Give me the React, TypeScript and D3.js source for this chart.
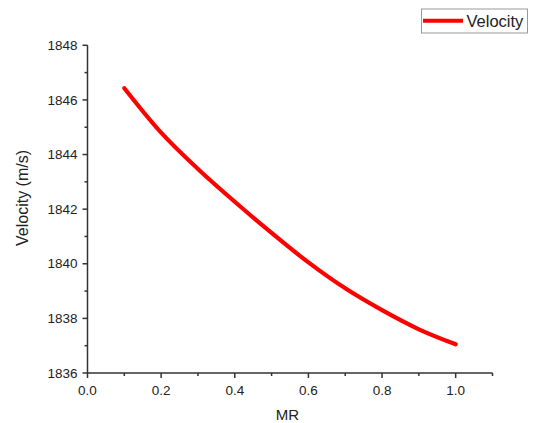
import React from "react";
import * as d3 from "d3";

const mr: number[] = [0.1, 0.2, 0.3, 0.4, 0.5, 0.6, 0.7, 0.8, 0.9, 1.0];
const velocity: number[] = [1846.43, 1844.8, 1843.47, 1842.27, 1841.13, 1840.05, 1839.1, 1838.3, 1837.6, 1837.05];
const xTicks: number[] = [0, 0.2, 0.4, 0.6, 0.8, 1.0];
const xMinor: number[] = [0.1, 0.3, 0.5, 0.7, 0.9, 1.1];
const yTicks: number[] = [1836, 1838, 1840, 1842, 1844, 1846, 1848];
const yMinor: number[] = [1837, 1839, 1841, 1843, 1845, 1847];
const seriesName = "Velocity";
const xTitle = "MR";
const yTitle = "Velocity (m/s)";

const W = 535;
const H = 423;
const font = "'Liberation Sans', Arial, sans-serif";
const axisColor = "#333";

export default function App() {
  const x = d3.scaleLinear().domain([0, 1.1]).range([87.5, 492.5]);
  const y = d3.scaleLinear().domain([1836, 1848]).range([373, 45.3]);
  const line = d3
    .line<number>()
    .x((_, i) => x(mr[i]))
    .y((d) => y(d))
    .curve(d3.curveMonotoneX);
  const x0 = x.range()[0];
  const y0 = y.range()[0];
  return (
    <svg
      width={W}
      height={H}
      style={{ position: "absolute", left: 0, top: 0, background: "#fff" }}
      fontFamily={font}
    >
      {/* axes */}
      <line x1={x0} x2={x0} y1={y(1848)} y2={y0} stroke={axisColor} strokeWidth={1.5} />
      <line x1={x0} x2={x(1.1)} y1={y0} y2={y0} stroke={axisColor} strokeWidth={1.5} />
      {yTicks.map((t) => (
        <g key={"y" + t}>
          <line x1={x0 - 5} x2={x0} y1={y(t)} y2={y(t)} stroke={axisColor} strokeWidth={1.5} />
          <text x={x0 - 10} y={y(t)} dy="0.35em" textAnchor="end" fontSize={13.5} fill="#222">
            {t}
          </text>
        </g>
      ))}
      {yMinor.map((t) => (
        <line key={"ym" + t} x1={x0 - 3} x2={x0} y1={y(t)} y2={y(t)} stroke={axisColor} strokeWidth={1.5} />
      ))}
      {xTicks.map((t) => (
        <g key={"x" + t}>
          <line x1={x(t)} x2={x(t)} y1={y0} y2={y0 + 5} stroke={axisColor} strokeWidth={1.5} />
          <text x={x(t)} y={y0 + 22} textAnchor="middle" fontSize={13.5} fill="#222">
            {t.toFixed(1)}
          </text>
        </g>
      ))}
      {xMinor.map((t) => (
        <line key={"xm" + t} x1={x(t)} x2={x(t)} y1={y0} y2={y0 + 3} stroke={axisColor} strokeWidth={1.5} />
      ))}
      {/* titles */}
      <text x={287.5} y={419.5} textAnchor="middle" fontSize={15} fill="#222">
        {xTitle}
      </text>
      <text
        transform={`translate(27.5,198) rotate(-90)`}
        textAnchor="middle"
        fontSize={16}
        fill="#222"
      >
        {yTitle}
      </text>
      {/* series */}
      <path d={line(velocity) || ""} fill="none" stroke="#ff0000" strokeWidth={4.2} strokeLinecap="round" />
      {/* legend */}
      <rect x={421.5} y={9} width={106} height={24} fill="#fff" stroke="#999" strokeWidth={1} />
      <line x1={423} x2={463} y1={20.7} y2={20.7} stroke="#ff0000" strokeWidth={4} />
      <text x={466.5} y={27} fontSize={16.5} fill="#222">
        {seriesName}
      </text>
    </svg>
  );
}
